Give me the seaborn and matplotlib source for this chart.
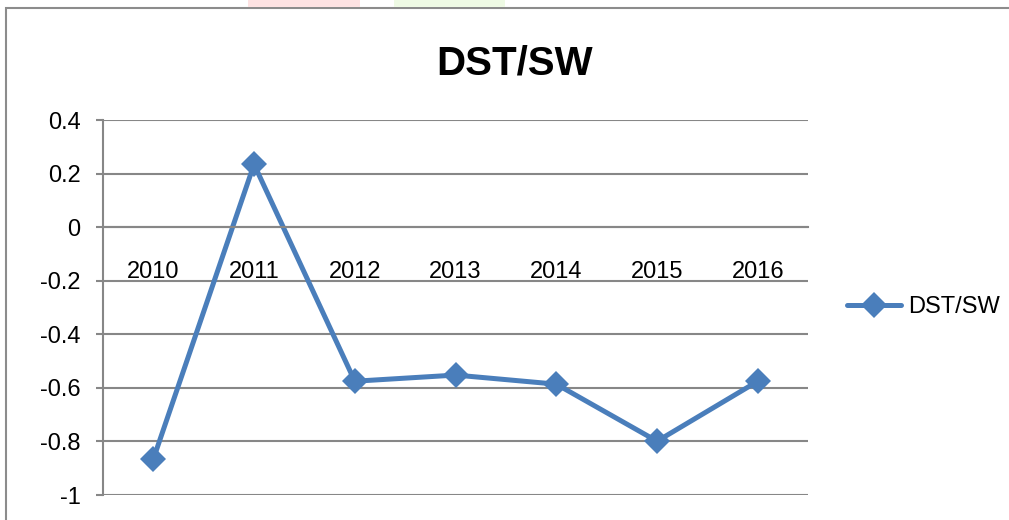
import matplotlib.pyplot as plt
from matplotlib.patches import Rectangle
import pandas as pd
import seaborn as sns

# Data
years = ["2010", "2011", "2012", "2013", "2014", "2015", "2016"]
dst_sw = [-0.866, 0.235, -0.575, -0.552, -0.586, -0.799, -0.575]
y_ticks = [-1, -0.8, -0.6, -0.4, -0.2, 0, 0.2, 0.4]
y_labels = ["-1", "-0.8", "-0.6", "-0.4", "-0.2", "0", "0.2", "0.4"]

df = pd.DataFrame({"pos": range(len(years)), "year": years, "DST/SW": dst_sw})

sns.set_style("white")
plt.rcParams['font.family'] = ['Liberation Sans', 'DejaVu Sans']
plt.rcParams['text.color'] = 'black'
plt.rcParams['xtick.labelcolor'] = 'black'
plt.rcParams['ytick.labelcolor'] = 'black'

line_color = "#4a7ebb"
grid_color = "#878787"

fig = plt.figure(figsize=(10.09, 5.2), dpi=100)
ax = fig.add_axes([0.102, 0.048, 0.699, 0.721])

sns.lineplot(data=df, x="pos", y="DST/SW", ax=ax, color=line_color,
             linewidth=3.6, marker="D", markersize=13, markeredgewidth=0,
             label="DST/SW", legend=False, sort=False)

# Axis range and gridlines
ax.set_xlim(-0.5, len(years) - 0.5)
ax.set_ylim(-1, 0.4)
ax.set_yticks(y_ticks, labels=y_labels)
ax.grid(axis="y", color=grid_color, linewidth=1.5)
ax.set_axisbelow(True)
ax.set_xlabel("")
ax.set_ylabel("")

# Category axis crosses at zero, labels under it
ax.spines["bottom"].set_position(("data", 0))
ax.spines["bottom"].set_color(grid_color)
ax.spines["bottom"].set_linewidth(1.5)
ax.spines["left"].set_color(grid_color)
ax.spines["left"].set_linewidth(1.5)
ax.spines["top"].set_visible(False)
ax.spines["right"].set_visible(False)

ax.set_xticks(range(len(years)), labels=years)
ax.set_xticks([i - 0.5 for i in range(len(years) + 1)], minor=True)
ax.tick_params(axis="x", which="major", length=0, pad=24.5, labelsize=17)
ax.tick_params(axis="x", which="minor", length=5, width=1.5,
               color=grid_color, direction="out")
ax.tick_params(axis="y", length=5, width=1.5, color=grid_color,
               direction="out", labelsize=17, pad=11, left=True)

# Title sits over the whole chart, not just the plot area
ax.set_title("DST/SW", fontsize=29, fontweight="bold", pad=33,
             color="black", x=0.583)

# Legend on the right
handles, labels = ax.get_legend_handles_labels()
fig.legend(handles, labels, loc="center left", bbox_to_anchor=(0.830, 0.41),
           frameon=False, fontsize=17, handlelength=2.3, handletextpad=0.3,
           borderaxespad=0)

# Chart frame and faint watermark at the top
fig.patches.append(Rectangle((6 / 1009, -0.1), 1.2, (1 - 8 / 520) + 0.1,
                             transform=fig.transFigure, fill=False,
                             edgecolor="#8c8c8c", linewidth=1.5))
fig.patches.append(Rectangle((248 / 1009, 1 - 7 / 520), 112 / 1009, 7 / 520,
                             transform=fig.transFigure, color="#fde2e2",
                             linewidth=0))
fig.patches.append(Rectangle((394 / 1009, 1 - 7 / 520), 111 / 1009, 7 / 520,
                             transform=fig.transFigure, color="#eefae4",
                             linewidth=0))

fig.savefig("out.png", dpi=100)
